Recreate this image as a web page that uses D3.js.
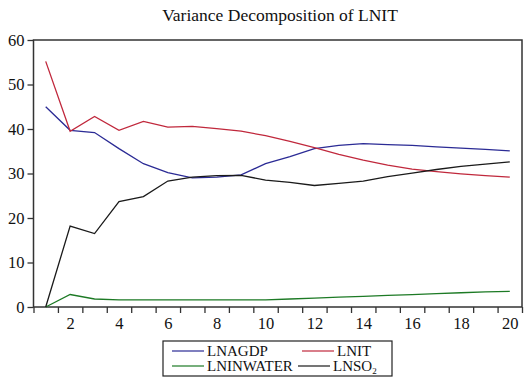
<!DOCTYPE html>
<html><head><meta charset="utf-8">
<script src="https://cdn.jsdelivr.net/npm/d3@7"></script>
<style>body{margin:0;background:#fff}svg{display:block}</style>
</head><body>
<svg id="c" width="526" height="382"></svg>
<script>
const periods = d3.range(1, 21);
const lnagdp    = [45.0,39.7,39.2,35.6,32.2,30.2,29.0,29.2,29.7,32.2,33.8,35.6,36.3,36.7,36.5,36.3,36.0,35.7,35.4,35.1];
const lnit      = [55.2,39.5,42.8,39.7,41.7,40.4,40.6,40.1,39.5,38.5,37.2,35.8,34.3,33.0,31.9,31.0,30.4,29.9,29.5,29.2];
const lninwater = [0.0,2.8,1.8,1.6,1.6,1.6,1.6,1.6,1.6,1.6,1.8,2.0,2.2,2.4,2.6,2.8,3.0,3.2,3.4,3.5];
const lnso2     = [0.0,18.2,16.5,23.7,24.8,28.3,29.2,29.5,29.6,28.5,28.0,27.3,27.8,28.3,29.3,30.1,30.9,31.6,32.1,32.6];
const yTicks = [0,10,20,30,40,50,60];
const xLabels = [2,4,6,8,10,12,14,16,18,20];
const seriesNames = ["LNAGDP","LNIT","LNINWATER","LNSO2"];
const colors = ["#2b2b95","#c0283c","#1d7a25","#1a1a1a"];

const svg = d3.select("#c");
const L=33.5, R=522, T=40, B=307;
const x = d3.scaleLinear().domain([0.5,20.5]).range([L,R]);
const y = d3.scaleLinear().domain([0,60]).range([B,T]);
const font = "'Liberation Serif','Times New Roman',serif";

svg.append("text").attr("x",280).attr("y",21).attr("text-anchor","middle")
  .attr("font-family",font).attr("font-size",17.5).attr("fill","#111")
  .text("Variance Decomposition of LNIT");

// frame
svg.append("rect").attr("x",L).attr("y",T).attr("width",R-L).attr("height",B-T)
  .attr("fill","none").attr("stroke","#333").attr("stroke-width",1.5);

// y axis
const ya = svg.append("g").attr("transform",`translate(${L},0)`)
  .call(d3.axisLeft(y).tickValues(yTicks).tickSize(6).tickPadding(3));
ya.select(".domain").remove();
ya.selectAll("line").attr("stroke","#333").attr("stroke-width",1.3);
ya.selectAll("text").attr("font-family",font).attr("font-size",16.5).attr("fill","#111");

// x axis ticks at half-integers
const xt = svg.append("g").attr("transform",`translate(0,${B})`)
  .call(d3.axisBottom(x).tickValues(d3.range(0.5,21,1)).tickSize(6).tickFormat(""));
xt.select(".domain").remove();
xt.selectAll("line").attr("stroke","#333").attr("stroke-width",1.3);
const xl = svg.append("g").attr("transform",`translate(0,${B})`)
  .call(d3.axisBottom(x).tickValues(xLabels).tickSize(0).tickPadding(10));
xl.select(".domain").remove();
xl.selectAll("text").attr("font-family",font).attr("font-size",16.5).attr("fill","#111");

const data = [lnagdp, lnit, lninwater, lnso2];
const line = d3.line().x((d,i)=>x(periods[i])).y(d=>y(d));
data.forEach((s,k)=>{
  svg.append("path").datum(s).attr("d",line).attr("fill","none")
    .attr("stroke",colors[k]).attr("stroke-width",1.3);
});

// legend
const lg = svg.append("g");
lg.append("rect").attr("x",163).attr("y",341).attr("width",229).attr("height",35)
  .attr("fill","#fff").attr("stroke","#222").attr("stroke-width",1.2);
const pos = [[172,351],[302,351],[172,366],[298,366]];
seriesNames.forEach((n,k)=>{
  const [px,py]=pos[k];
  lg.append("line").attr("x1",px).attr("x2",px+32).attr("y1",py).attr("y2",py)
    .attr("stroke",colors[k]).attr("stroke-width",1.2);
  const t = lg.append("text").attr("x",px+35).attr("y",py+5)
    .attr("font-family",font).attr("font-size",15).attr("fill","#111");
  if(n==="LNSO2"){
    t.append("tspan").text("LNSO");
    t.append("tspan").attr("font-size",9).attr("dy",3).text("2");
  } else t.text(n);
});
</script>
</body></html>
